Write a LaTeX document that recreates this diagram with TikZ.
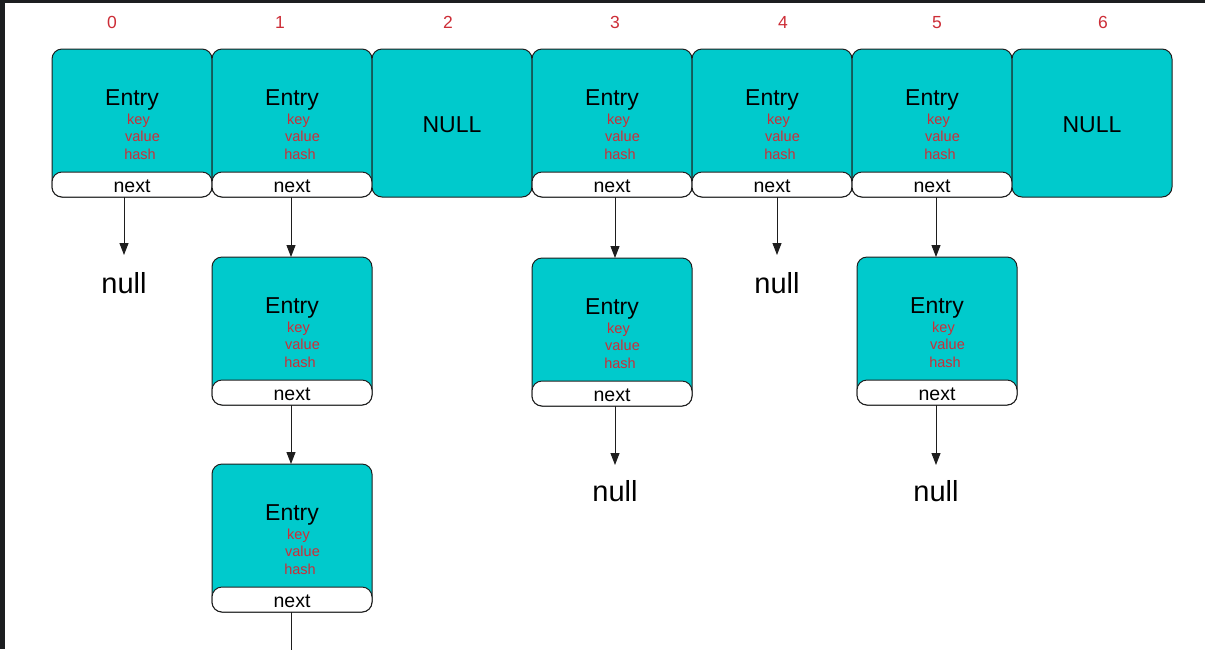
\documentclass[tikz,border=0pt]{standalone}
\usepackage{fontspec}
\setmainfont{Liberation Sans}
\usetikzlibrary{arrows.meta}
\definecolor{tealc}{RGB}{0,202,204}
\definecolor{redc}{RGB}{205,45,55}
\definecolor{framec}{RGB}{28,30,32}
\definecolor{linec}{RGB}{30,30,30}
\tikzset{
  tealbox/.style={draw=linec, line width=1pt, fill=tealc, rounded corners=10pt,
    minimum width=160pt, minimum height=148pt, inner sep=0pt, outer sep=0pt},
  nextbar/.style={draw=linec, line width=1pt, fill=white, rounded corners=10pt,
    minimum width=160pt, minimum height=25pt, inner sep=0pt, outer sep=0pt},
  nexttxt/.style={inner sep=0pt, font=\fontsize{19.5}{22}\selectfont, text=black},
  enttxt/.style={inner sep=0pt, font=\fontsize{23}{27}\selectfont, text=black},
  fldtxt/.style={inner sep=0pt, font=\fontsize{14.5}{17}\selectfont, text=redc},
  idxtxt/.style={inner sep=0pt, font=\fontsize{17.5}{20}\selectfont, text=redc},
  nulltxt/.style={inner sep=0pt, font=\fontsize{29}{33}\selectfont, text=black},
  arr/.style={draw=linec, line width=1pt, -{Triangle[length=12pt,width=9pt]}},
  plainline/.style={draw=linec, line width=1pt}
}
\newcommand\mkentry[3]{%
  \node[tealbox, anchor=north] (#1) at (#2,#3) {};
  \node[nextbar, anchor=south] (#1n) at (#1.south) {};
  \node[nexttxt, anchor=base] (#1nt) at ([yshift=-143pt]#1.north) {next};
  \node[enttxt, anchor=base] (#1e) at ([yshift=-56pt]#1.north) {Entry};
  \node[fldtxt, anchor=base] (#1k) at ([xshift=6.5pt,yshift=-75pt]#1.north) {key};
  \node[fldtxt, anchor=base] (#1v) at ([xshift=10.5pt,yshift=-92.5pt]#1.north) {value};
  \node[fldtxt, anchor=base] (#1h) at ([xshift=8pt,yshift=-110pt]#1.north) {hash};
}
\newcommand\mknullbox[3]{%
  \node[tealbox, anchor=north] (#1) at (#2,#3) {};
  \node[enttxt, anchor=base] (#1t) at ([yshift=-83pt]#1.north) {NULL};
}
\begin{document}
\begin{tikzpicture}[x=1pt, y=-1pt]
\useasboundingbox (0,0) rectangle (1205,649);
\fill[white] (0,0) rectangle (1205,649);
\fill[framec] (0,0) rectangle (1205,3);
\fill[framec] (0,0) rectangle (5,649);

% index labels
\node[idxtxt, anchor=base] (i0) at (112,28) {0};
\node[idxtxt, anchor=base] (i1) at (280,28) {1};
\node[idxtxt, anchor=base] (i2) at (448,28) {2};
\node[idxtxt, anchor=base] (i3) at (615,28) {3};
\node[idxtxt, anchor=base] (i4) at (783,28) {4};
\node[idxtxt, anchor=base] (i5) at (937,28) {5};
\node[idxtxt, anchor=base] (i6) at (1103,28) {6};

% top row
\mkentry{a0}{132}{49}
\mkentry{a1}{292}{49}
\mknullbox{a2}{452}{49}
\mkentry{a3}{612}{49}
\mkentry{a4}{772}{49}
\mkentry{a5}{932}{49}
\mknullbox{a6}{1092}{49}

% second row
\mkentry{b1}{292}{257}
\mkentry{b3}{612}{258}
\mkentry{b5}{937}{257}

% third row
\mkentry{c1}{292}{464}

% null texts
\node[nulltxt, anchor=base] (n0) at (124,293) {null};
\node[nulltxt, anchor=base] (n4) at (777,293) {null};
\node[nulltxt, anchor=base] (n3) at (615,501) {null};
\node[nulltxt, anchor=base] (n5) at (936,501) {null};

% arrow coordinates
\coordinate (t0) at (124,255);
\coordinate (t4) at (777,255);
\coordinate (t3) at (615,465);
\coordinate (t5) at (936,465);
\coordinate (x1) at (291,0);
\coordinate (x3) at (615,0);
\coordinate (x5) at (936,0);
\coordinate (endc) at (291,652);

\draw[arr] (a0n.south -| t0) -- (t0);
\draw[arr] (a1n.south -| x1) -- (b1.north -| x1);
\draw[arr] (a3n.south -| x3) -- (b3.north -| x3);
\draw[arr] (a4n.south -| t4) -- (t4);
\draw[arr] (a5n.south -| x5) -- (b5.north -| x5);
\draw[arr] (b1n.south -| x1) -- (c1.north -| x1);
\draw[arr] (b3n.south -| t3) -- (t3);
\draw[arr] (b5n.south -| t5) -- (t5);
\draw[plainline] (c1n.south -| endc) -- (endc);
\end{tikzpicture}
\end{document}
